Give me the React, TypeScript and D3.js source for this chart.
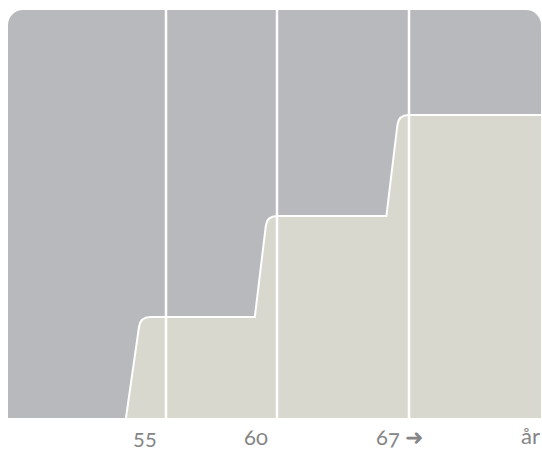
import React from 'react';
import * as d3 from 'd3';

// ages where the vertical guide lines sit
const ages = [55, 60, 67];
const tickLabels = ['55', '60', '67 ➜'];
const unitLabel = 'år';

// x domain ends (left / right edge of the panel)
const ageMin = 47.9;
const ageMax = 74;

// stepped profile (age, level)
const stepAges = [53.2, 53.85, 59.0, 59.55, 65.8, 66.45];
const stepLevels = [0, 1, 1, 2, 2, 3];
const topLevel = 3;

const W = 542;
const H = 450;
const left = 8;
const right = 541;
const top = 10;
const bottom = 418;

type Pt = [number, number];

const roundedLine = (pts: Pt[], roundAt: number[], r: number) => {
  const p = d3.path();
  p.moveTo(pts[0][0], pts[0][1]);
  for (let i = 1; i < pts.length; i++) {
    const [x, y] = pts[i];
    if (roundAt.includes(i) && i < pts.length - 1) {
      const [px, py] = pts[i - 1];
      const [nx, ny] = pts[i + 1];
      const d1 = Math.hypot(x - px, y - py);
      const d2 = Math.hypot(nx - x, ny - y);
      const ax = x - ((x - px) / d1) * r;
      const ay = y - ((y - py) / d1) * r;
      const bx = x + ((nx - x) / d2) * r;
      const by = y + ((ny - y) / d2) * r;
      p.lineTo(ax, ay);
      p.quadraticCurveTo(x, y, bx, by);
    } else {
      p.lineTo(x, y);
    }
  }
  return p.toString();
};

const App: React.FC = () => {
  const x = d3.scaleLinear()
    .domain([ageMin, ...ages, ageMax])
    .range([left, 166, 277, 409, right]);

  const y = d3.scaleLinear()
    .domain([0, topLevel])
    .range([bottom, 115]);

  const pts: Pt[] = stepAges.map((a, i) => [x(a), y(stepLevels[i])] as Pt);
  pts.push([x(ageMax), y(topLevel)]);
  const outline = roundedLine(pts, [1, 3, 5], 10);
  const area = outline + `L${x(ageMax)},${y(0)}Z`;

  const r = 15;
  const bg = d3.path();
  bg.moveTo(left, bottom);
  bg.lineTo(left, top + r);
  bg.arcTo(left, top, left + r, top, r);
  bg.lineTo(right - r, top);
  bg.arcTo(right, top, right, top + r, r);
  bg.lineTo(right, bottom);
  bg.closePath();

  const labelStyle: React.CSSProperties = {
    fontFamily: 'Lato, "Open Sans", sans-serif',
    fontSize: 22,
    fill: '#858585',
    fontVariantNumeric: 'oldstyle-nums',
  };

  return (
    <svg width={W} height={H} style={{ position: 'absolute', left: 0, top: 0 }}>
      <path d={bg.toString()} fill="#b8b9bd" />
      <path d={area} fill="#d8d8cf" />
      <path d={outline} fill="none" stroke="#fff" strokeWidth={2} />
      {ages.map((a) => (
        <line key={a} x1={x(a)} x2={x(a)} y1={top} y2={bottom} stroke="#fff" strokeWidth={2.5} />
      ))}
      {ages.map((a, i) => (
        <text key={'t' + a} x={x(a) - 33} y={445} style={labelStyle}>
          {tickLabels[i]}
        </text>
      ))}
      <text x={540} y={444} textAnchor="end" style={labelStyle}>
        {unitLabel}
      </text>
    </svg>
  );
};

export default App;
